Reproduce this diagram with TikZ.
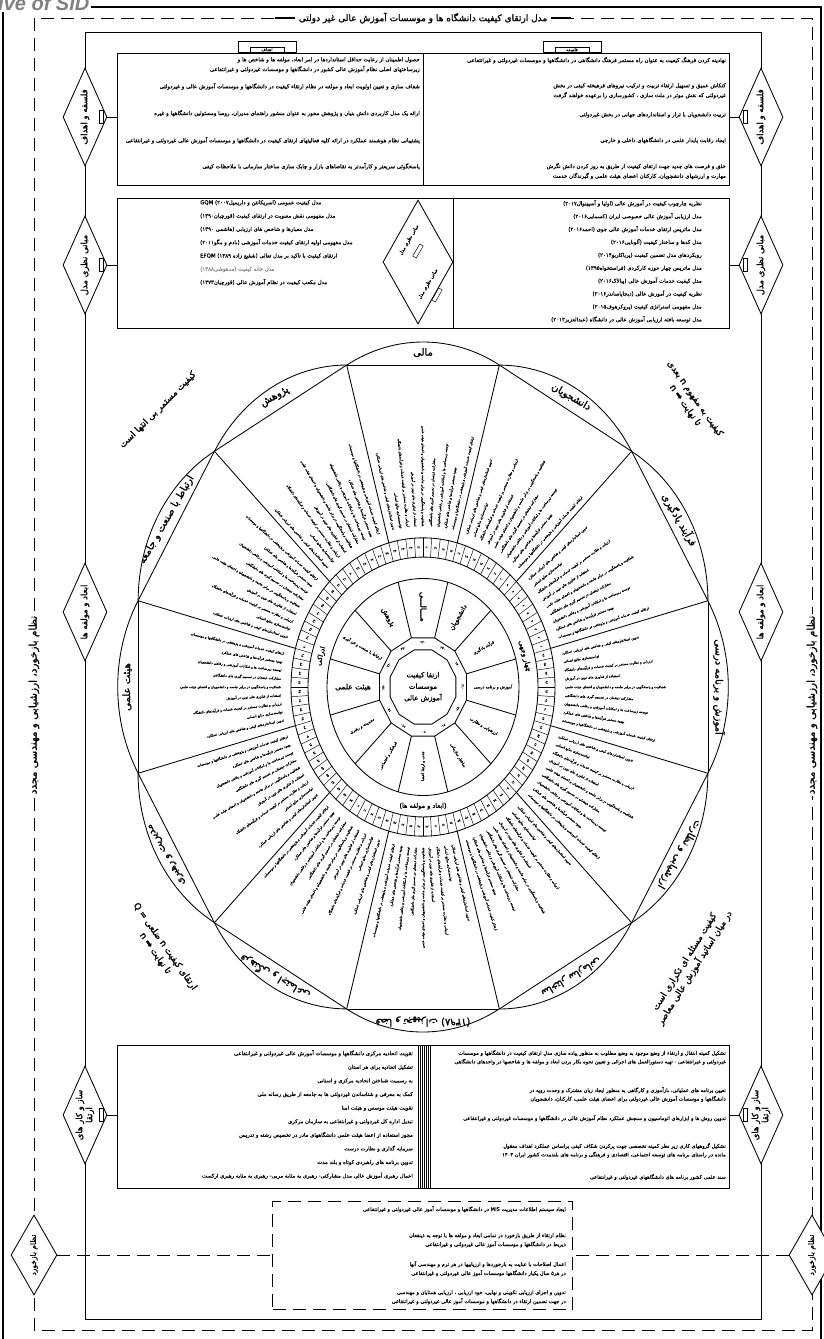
\documentclass[tikz,border=0pt]{standalone}
\usepackage{fontspec}
\setmainfont{DejaVu Sans}
\newfontfamily\fa[Script=Arabic,FakeBold=0.4]{DejaVu Sans}
\newfontfamily\fab[Script=Arabic,FakeBold=1.4]{DejaVu Sans}
\newfontfamily\wmfont{Liberation Sans}
\TeXXeTstate=1
\newcommand\rl[1]{\beginR#1\endR}
\newcommand\fs[2]{\fontsize{#1}{#2}\selectfont}
\newcommand\fadig[1]{\ifcase#1 ۰\or ۱\or ۲\or ۳\or ۴\or ۵\or ۶\or ۷\or ۸\or ۹\fi}
\def\fanumi#1#2\relax{\fadig{#1}\ifx\relax#2\relax\else\fanumi#2\relax\fi}
\newcommand\fanum[1]{\expandafter\fanumi#1\relax}
\newcommand\pA{ارتقای کیفیت خدمات آموزشی و پژوهشی در دانشگاهها و موسسات}
\newcommand\pB{بهبود مستمر فرآیندها و شاخص های عملکرد}
\newcommand\pC{توسعه زیرساخت ها و امکانات آموزشی و رفاهی دانشجویان}
\newcommand\pD{مشارکت ذینفعان در تصمیم گیری های دانشگاهی}
\newcommand\pE{شفافیت و پاسخگویی در برابر جامعه و دانشجویان و اعضای هیئت علمی}
\newcommand\pF{استفاده از فناوری های نوین در آموزش}
\newcommand\pG{ارزیابی و نظارت مستمر بر کیفیت خدمات و فرآیندهای دانشگاه}
\newcommand\pH{توانمندسازی منابع انسانی}
\newcommand\pI{تدوین استانداردهای کیفی و شاخص های ارزیابی عملکرد}
\usetikzlibrary{shapes.geometric,calc}
\begin{document}
\begin{tikzpicture}[x=1pt,y=-1pt,
 ln/.style={line width=0.85pt},
 hair/.style={line width=0.45pt},
 dsh/.style={line width=1pt,dash pattern=on 13pt off 7pt},
 box/.style={draw,ln,anchor=north west,inner sep=0pt},
 dia/.style={diamond,aspect=2.2,draw,fill=white,ln,rotate=90,inner sep=0pt,minimum width=98pt,minimum height=44pt,font=\fab\fs{8.5}{10},align=center},
 tag/.style={draw,hair,fill=white,minimum width=4pt,minimum height=13pt,inner sep=0pt},
 ptext/.style={font=\fa\fs{5.4}{9.8},inner sep=0pt},
 lst/.style={font=\fa\fs{5.4}{13.3},inner sep=0pt},
 crn/.style={font=\fab\fs{9}{12},align=center,inner sep=0pt},
 seclab/.style={font=\fab\fs{10}{11},inner sep=0pt},
 wtxt/.style={font=\fa\fs{3.4}{4},inner sep=0pt},
 ]
\useasboundingbox (0,0) rectangle (824,1339);
% frame
\draw[line width=2.2pt] (3,1345) -- (3,7) -- (821,7) -- (821,1345);
\node[anchor=west,text=black!50,font=\wmfont\bfseries\itshape\fs{20}{20},fill=white,inner sep=2pt] (wm) at (-4,3) {ive of SID};
% outer dashed frame and title
\draw[dsh] (34,18) rectangle (812,1330);
\node[fill=white,font=\fab\fs{9}{10},inner xsep=4pt] (title) at (423,18) {\rl{مدل ارتقای کیفیت دانشگاه ها و موسسات آموزش عالی غیر دولتی}};
\draw[line width=1.2pt] (title.west) -- ++(-20,0);
\draw[line width=1.2pt] (title.east) -- ++(20,0);
% inner solid frame
\draw[ln] (85,32) rectangle (761,1319);

% ---------- top boxes
\node[box,minimum width=306pt,minimum height=132pt] (tL) at (117,53) {};
\node[box,minimum width=306pt,minimum height=132pt] (tR) at (423,53) {};
\node[draw,ln,anchor=south,minimum width=58pt,minimum height=11pt,inner sep=0pt] (tabL) at (267,53) {};
\node[draw,hair,anchor=south,font=\fa\fs{4.2}{4.2},inner sep=1pt,minimum width=34pt] (tabLt) at (267,52.5) {\rl{اهداف}};
\node[draw,ln,anchor=south,minimum width=58pt,minimum height=11pt,inner sep=0pt] (tabR) at (572,53) {};
\node[draw,hair,anchor=south,font=\fa\fs{4.2}{4.2},inner sep=1pt,minimum width=34pt] (tabRt) at (572,52.5) {\rl{فلسفه}};

\node[ptext,anchor=north east,text width=299pt,align=right] (a1) at (420,57) {\rl{حصول اطمینان از رعایت حداقل استانداردها در امر ابعاد، مولفه ها و شاخص ها و زیرساختهای اصلی نظام آموزش عالی کشور در دانشگاهها و موسسات غیردولتی و غیرانتفاعی}};
\node[ptext,anchor=north east,text width=299pt,align=right] (a2) at (420,83) {\rl{شفاف سازی و تعیین اولویت ابعاد و مولفه در نظام ارتقاء کیفیت در دانشگاهها و موسسات آموزش عالی و غیردولتی}};
\node[ptext,anchor=north east,text width=299pt,align=right] (a3) at (420,110) {\rl{ارائه یک مدل کاربردی دانش بنیان و پژوهش محور به عنوان منشور راهنمای مدیران، روسا ومسئولین دانشگاهها و غیره}};
\node[ptext,anchor=north east,text width=299pt,align=right] (a4) at (420,137) {\rl{پشتیبانی نظام هوشمند عملکرد در ارائه کلیه فعالیتهای ارتقای کیفیت در دانشگاهها و موسسات آموزش عالی غیردولتی و غیرانتفاعی}};
\node[ptext,anchor=north east,text width=299pt,align=right] (a5) at (420,163) {\rl{پاسخگوئی سریعتر و کارآمدتر به تقاضاهای بازار و چابک سازی ساختار سازمانی با ملاحظات کیفی}};

\node[ptext,anchor=north east,text width=299pt,align=right] (f1) at (726,57) {\rl{نهادینه کردن فرهنگ کیفیت به عنوان راه مستمر فرهنگ دانشگاهی در دانشگاهها و موسسات غیردولتی و غیرانتفاعی}};
\node[ptext,anchor=north east,text width=299pt,align=right] (f2) at (726,83) {\rl{کنکاش عمیق و تسهیل ارتقاء تربیت و ترکیب نیروهای فرهیخته کیفی در بخش غیردولتی که نقش موثر در ملت سازی ، کشورسازی را برعهده خواهند گرفت}};
\node[ptext,anchor=north east,text width=299pt,align=right] (f3) at (726,112) {\rl{تربیت دانشجویان با تراز و استانداردهای جهانی در بخش غیردولتی}};
\node[ptext,anchor=north east,text width=299pt,align=right] (f4) at (726,137) {\rl{ایجاد رقابت پایدار علمی در دانشگاههای داخلی و خارجی}};
\node[ptext,anchor=north east,text width=299pt,align=right] (f5) at (726,163) {\rl{خلق و فرصت های جدید جهت ارتقای کیفیت از طریق به روز کردن دانش نگرش مهارت و ارزشهای دانشجویان، کارکنان اعضای هیئت علمی و گیرندگان خدمت}};

\node[dia] (dL1) at (85,117) {\rl{فلسفه و اهداف}};
\node[dia] (dR1) at (761,117) {\rl{فلسفه و اهداف}};
\draw[ln] (dL1) -- (dL1 -| tL.west);
\draw[ln] (dR1) -- (dR1 -| tR.east);
\node[tag] (gL1) at (101,117) {};
\node[tag] (gR1) at (745,117) {};

% ---------- middle boxes
\node[box,minimum width=612pt,minimum height=130pt] (mB) at (117,198) {};
\draw[ln] (453,198) -- (453,328);
\node[diamond,draw,ln,fill=white,minimum width=70pt,minimum height=124pt,inner sep=0pt] (mD) at (418,262) {};
\node[font=\fa\fs{4.8}{5},rotate=60,inner sep=1pt] (mD1) at (409,240) {\rl{مبانی نظری مدل}};
\node[font=\fa\fs{4.8}{5},rotate=60,inner sep=1pt] (mD2) at (428,284) {\rl{مبانی نظری مدل}};
\node[draw,hair,rotate=60,minimum width=14pt,minimum height=4pt,inner sep=0pt] (mT1) at (418,251) {};
\node[draw,hair,rotate=60,minimum width=14pt,minimum height=4pt,inner sep=0pt] (mT2) at (437,295) {};

\node[lst,anchor=north west,align=left] (ml) at (200,200) {%
\rl{مدل کیفیت عمومی (اسریکانتن و داریمپل۲۰۰۷) GQM}\\
\rl{مدل مفهومی نقش معنویت در ارتقای کیفیت (قورچیان۱۳۹۰)}\\
\rl{مدل معیارها و شاخص های ارزیابی (هاشمی ۱۳۹۰)}\\
\rl{مدل مفهومی اولیه ارتقای کیفیت خدمات آموزشی (نادم و مگو۲۰۱۱)}\\
\rl{ارتقای کیفیت با تاکید بر مدل تعالی (شفیع زاده ۱۳۸۹) EFQM}\\
\textcolor{black!45}{\rl{مدل خانه کیفیت (مدهوشی۱۳۸۸)}}\\
\rl{مدل مکعب کیفیت در نظام آموزش عالی (قورچیان۱۳۷۳)}};
\node[lst,anchor=north east,align=right,font=\fa\fs{5.4}{12.9}] (mr) at (702,200) {%
\rl{نظریه چارچوب کیفیت در آموزش عالی (اولیا و آسپینوال۲۰۱۷)}\\
\rl{مدل ارزیابی آموزش عالی خصوصی ایران (کسمایی۲۰۱۶)}\\
\rl{مدل ماتریس ارتقای خدمات آموزش عالی جوی (احمد۲۰۱۶)}\\
\rl{مدل کدها و ساختار کیفیت (آلونایی۲۰۱۶)}\\
\rl{رویکردهای مدل تضمین کیفیت (پریاکاریو۲۰۱۴)}\\
\rl{مدل ماتریس چهار حوزه کارکردی (فراستخواه۱۳۹۵)}\\
\rl{مدل کیفیت خدمات آموزش عالی (پیالاک۲۰۱۶)}\\
\rl{نظریه کیفیت در آموزش عالی (دبجایاساندر۲۰۱۶)}\\
\rl{مدل مفهومی استراتژی کیفیت (پروکرهوف۲۰۱۵)}\\
\rl{مدل توسعه یافته ارزیابی آموزش عالی در دانشگاه (عبدالعزیز۲۰۱۳)}};

\node[dia] (dL2) at (85,265) {\rl{مبانی نظری مدل}};
\node[dia] (dR2) at (761,265) {\rl{مبانی نظری مدل}};
\draw[ln] (dL2) -- (dL2 -| mB.west);
\draw[ln] (dR2) -- (dR2 -| mB.east);
\node[tag] (gL2) at (101,265) {};
\node[tag] (gR2) at (745,265) {};

% ---------- side labels
\node[fill=white,rotate=90,font=\fab\fs{10.5}{11},inner sep=2pt] (sL) at (34,705) {\rl{نظام بازخورد، ارزشیابی و مهندسی مجدد}};
\node[fill=white,rotate=90,font=\fab\fs{10.5}{11},inner sep=2pt] (sR) at (812,705) {\rl{نظام بازخورد، ارزشیابی و مهندسی مجدد}};
\node[dia] (dL5) at (85,612) {\rl{ابعاد و مولفه ها}};
\node[dia] (dR5) at (761,612) {\rl{ابعاد و مولفه ها}};

% ---------- corner sayings
\node[crn,rotate=45] (cUL) at (158,410) {\rl{کیفیت مستمر بی انتها است}};
\node[crn,rotate=-55] (cUR) at (690,402) {\rl{کیفیت به مفهوم n بعدی}\\\rl{تا نهایت ➡ n}};
\node[crn,rotate=-55] (cLL) at (160,950) {\rl{ارتقای کیفیت n ضلعی = Q}\\\rl{تا نهایت ➡ n}};
\node[crn,rotate=58] (cLR) at (690,965) {\rl{کیفیت مسئله ای تکراری است}\\\rl{در میان اساتید آموزش عالی معاصر}};

% ---------- the circle model
\begin{scope}[shift={(423,687)},yscale=-1.13]
 \foreach \t in {0,30,...,330} {
   \draw[ln] ({\t-15}:295) arc[start angle={\t-29.9},end angle={\t+29.9},radius=153];
   \draw[ln] ({\t-15}:295) -- ({\t+15}:295);
   \draw[ln] ({\t+15}:132) -- ({\t+15}:295);
   \foreach \d/\p in {-12/\pA,-9/\pB,-6/\pC,-3/\pD,0/\pE,3/\pF,6/\pG,9/\pH,12/\pI} {
     \pgfmathsetmacro\ph{\t+\d}
     \pgfmathtruncatemacro\ps{cos(\ph)>0.01 ? 1 : 0}
     \pgfmathsetmacro\rt{\ps==1 ? \ph : \ph+180}
     \ifnum\ps=1 \def\anc{west}\else\def\anc{east}\fi
     \node[wtxt,rotate=\rt,anchor=\anc] at (\ph:142) {\rl{\p}};
   }
 }
 \foreach \t/\lab in {90/مالی,60/دانشجویان,30/فرآیند یادگیری,0/آموزش و برنامه درسی,-30/ارزشیابی و نظارت,-60/ساختار سازمانی,-90/فضا و تجهیزات (۱۳۹۸),-120/فرهنگی و اجتماعی,-150/مدیریت و رهبری,180/هیئت علمی,150/ارتباط با صنعت و جامعه,120/پژوهش} {
   \node[seclab,rotate={\t-90}] at (\t:296) {\rl{\lab}};
 }
 % numbered ring
 \draw[ln] (0,0) circle[radius=132];
 \draw[ln] (0,0) circle[radius=115];
 \foreach \j in {0,...,95} {
   \draw[hair] ({15+3.75*\j}:115) -- ({15+3.75*\j}:132);
   \pgfmathtruncatemacro\nn{\j+1}
   \node[font=\fa\fs{3}{3},inner sep=0pt,rotate={16.875+3.75*\j-90}] at ({16.875+3.75*\j}:123.5) {\fanum{\nn}};
 }
 % label ring
 \draw[ln] (0,0) circle[radius=96];
 \node[font=\fab\fs{7}{7},rotate=75,inner sep=0pt] (lr1) at (165:105.5) {\rl{ادراکی}};
 \node[font=\fab\fs{7}{7},rotate=-75,inner sep=0pt] (lr2) at (15:105.5) {\rl{چهار وجهی}};
 \node[font=\fab\fs{6.5}{7},inner sep=0pt] (lr3) at (-90:105.5) {\rl{(ابعاد و مولفه ها)}};
 % inner sectors
 \foreach \k in {0,...,11} {\draw[ln] ({15+30*\k}:45) -- ({15+30*\k}:96);}
 \draw[ln] (15:45) \foreach \a in {45,75,...,345} {-- (\a:45)} -- cycle;
 \draw[ln] (15:34) \foreach \a in {45,75,...,345} {-- (\a:34)} -- cycle;
 \foreach \k in {0,...,11} {
   \pgfmathtruncatemacro\nn{210+10*\k}
   \node[font=\fa\fs{3.2}{3},inner sep=0pt,rotate={30*\k-90}] at ({30*\k}:39.5) {\fanum{\nn}};
 }
 \node[font=\fab\fs{7}{11.5},align=center,inner sep=0pt] (core) at (0,0) {\rl{ارتقا کیفیت}\\\rl{موسسات}\\\rl{آموزش عالی}};
 \node[font=\fab\fs{8}{8},rotate=-90,inner sep=0pt] at (90:71) {\rl{مـــالـــی}};
 \node[font=\fab\fs{7.5}{8},inner sep=0pt] at (180:70) {\rl{هیئت علمی}};
 \node[font=\fab\fs{6.5}{7},rotate=-60,inner sep=0pt] at (120:71) {\rl{پژوهش}};
 \node[font=\fab\fs{6.5}{7},rotate=60,inner sep=0pt] at (60:71) {\rl{دانشجویان}};
 \foreach \t/\lab in {30/فرآیند یادگیری,0/آموزش و برنامه درسی,-30/ارزشیابی و نظارت,-60/ساختار سازمانی,-90/جذب و ارتقا اعضا,-120/فرهنگی و اجتماعی,-150/مدیریت و رهبری,150/ارتباط با صنعت و فن آوری} {
   \pgfmathsetmacro\rt{cos(\t)>0.01 ? \t : \t+180}
   \node[font=\fa\fs{4}{4.5},rotate=\rt,inner sep=0pt] at (\t:70) {\rl{\lab}};
 }
\end{scope}

% ---------- bottom solid box
\node[box,minimum width=612pt,minimum height=143pt] (bB) at (117,1045) {};
\foreach \x in {418,420,...,430} {\draw[hair] (\x,1045) -- (\x,1188);}
\node[lst,anchor=north east,align=right,font=\fa\fs{5.3}{13.6}] (bl) at (413,1050) {%
\rl{تقویت اتحادیه مرکزی دانشگاهها و موسسات آموزش عالی غیردولتی و غیرانتفاعی}\\
\rl{تشکیل اتحادیه برای هر استان}\\
\rl{به رسمیت شناختن اتحادیه مرکزی و استانی}\\
\rl{کمک به معرفی و شناساندن غیردولتی ها به جامعه از طریق رسانه ملی}\\
\rl{تقویت هیئت موسس و هیئت امنا}\\
\rl{تبدیل اداره کل غیردولتی و غیرانتفاعی به سازمان مرکزی}\\
\rl{مجوز استفاده از اعضا هیئت علمی دانشگاههای مادر در تخصیص رشته و تدریس}\\
\rl{سرمایه گذاری و نظارت درست}\\
\rl{تدوین برنامه های راهبردی کوتاه و بلند مدت}\\
\rl{اعمال رهبری آموزش عالی مدل مشارکتی- رهبری به مثابه مربی- رهبری به مثابه رهبری ارکست}};
\node[ptext,anchor=north east,text width=290pt,align=right,font=\fa\fs{5.1}{8.6}] (br1) at (726,1050) {\rl{تشکیل کمیته انتقال و ارتقاء از وضع موجود به وضع مطلوب به منظور پیاده سازی مدل ارتقای کیفیت در دانشگاهها و موسسات غیردولتی و غیرانتفاعی - تهیه دستورالعمل های اجرائی و تعیین نحوه بکار بردن ابعاد و مولفه ها و شاخصها در واحدهای دانشگاهی}};
\node[ptext,anchor=north east,text width=290pt,align=right,font=\fa\fs{5.1}{8.6}] (br2) at (726,1087) {\rl{تعیین برنامه های عملیاتی، بازآموزی و کارگاهی به منظور ایجاد زبان مشترک و وحدت رویه در دانشگاهها و موسسات آموزش عالی غیردولتی برای اعضای هیئت علمی، کارکنان، دانشجویان}};
\node[ptext,anchor=north east,text width=290pt,align=right,font=\fa\fs{5.1}{8.6}] (br3) at (726,1115) {\rl{تدوین روش ها و ابزارهای اتوماسیون و سنجش عملکرد نظام آموزش عالی در دانشگاهها و موسسات غیردولتی و غیرانتفاعی}};
\node[ptext,anchor=north east,text width=290pt,align=right,font=\fa\fs{5.1}{8.6}] (br4) at (726,1143) {\rl{تشکیل گروههای کاری زیر نظر کمیته تخصصی جهت پرکردن شکاف کیفی براساس عملکرد اهداف معقول مانده در راستای برنامه های توسعه اجتماعی، اقتصادی و فرهنگی و برنامه های بلندمدت کشور ایران ۱۴۰۴}};
\node[ptext,anchor=north east,text width=290pt,align=right,font=\fa\fs{5.1}{8.6}] (br5) at (726,1174) {\rl{سند علمی کشور برنامه های دانشگاههای غیردولتی و غیرانتفاعی}};
\node[dia] (dL3) at (85,1115) {\rl{ساز و کار های}\\\rl{ارتقا}};
\node[dia] (dR3) at (761,1115) {\rl{ساز و کار های}\\\rl{ارتقا}};
\draw[ln] (dL3) -- (dL3 -| bB.west);
\draw[ln] (dR3) -- (dR3 -| bB.east);
\node[tag] (gL3) at (101,1115) {};
\node[tag] (gR3) at (745,1115) {};

% ---------- bottom dashed box (feedback)
\node[draw,dsh,anchor=north west,minimum width=300pt,minimum height=108pt,inner sep=0pt] (dB) at (272,1201) {};
\node[ptext,anchor=north east,text width=285pt,align=right,font=\fa\fs{5.1}{9}] (e1) at (566,1206) {\rl{ایجاد سیستم اطلاعات مدیریت MIS در دانشگاهها و موسسات آموز عالی غیردولتی و غیرانتفاعی}};
\node[ptext,anchor=north east,text width=285pt,align=right,font=\fa\fs{5.1}{9}] (e2) at (566,1233) {\rl{نظام ارتقاء از طریق بازخورد در تمامی ابعاد و مولفه ها با توجه به ذینفعان ذیربط در دانشگاهها و موسسات آموز عالی غیردولتی و غیرانتفاعی}};
\node[ptext,anchor=north east,text width=285pt,align=right,font=\fa\fs{5.1}{9}] (e3) at (566,1261) {\rl{اعمال اصلاحات با عنایت به بازخوردها و ارزیابیها در هر ترم و مهندسی آنها در هر۵ سال یکبار دانشگاهها موسسات آموز عالی غیردولتی و غیرانتفاعی}};
\node[ptext,anchor=north east,text width=285pt,align=right,font=\fa\fs{5.1}{9}] (e4) at (566,1290) {\rl{تدوین و اجرای ارزیابی تکوینی و نهایی، خود ارزیابی ، ارزیابی همتایان و مهندسی در جهت تضمین ارتقاء در دانشگاهها و موسسات آموز عالی غیردولتی و غیرانتفاعی}};
\node[diamond,aspect=2,draw,fill=white,ln,rotate=90,inner sep=0pt,minimum width=80pt,minimum height=46pt,font=\fab\fs{7.5}{8}] (dL4) at (34,1255) {\rl{نظام بازخورد}};
\node[diamond,aspect=2,draw,fill=white,ln,rotate=90,inner sep=0pt,minimum width=80pt,minimum height=46pt,font=\fab\fs{7.5}{8}] (dR4) at (812,1255) {\rl{نظام بازخورد}};
\draw[dsh] (dL4) -- (dL4 -| dB.west);
\draw[dsh] (dR4) -- (dR4 -| dB.east);
\end{tikzpicture}
\end{document}
